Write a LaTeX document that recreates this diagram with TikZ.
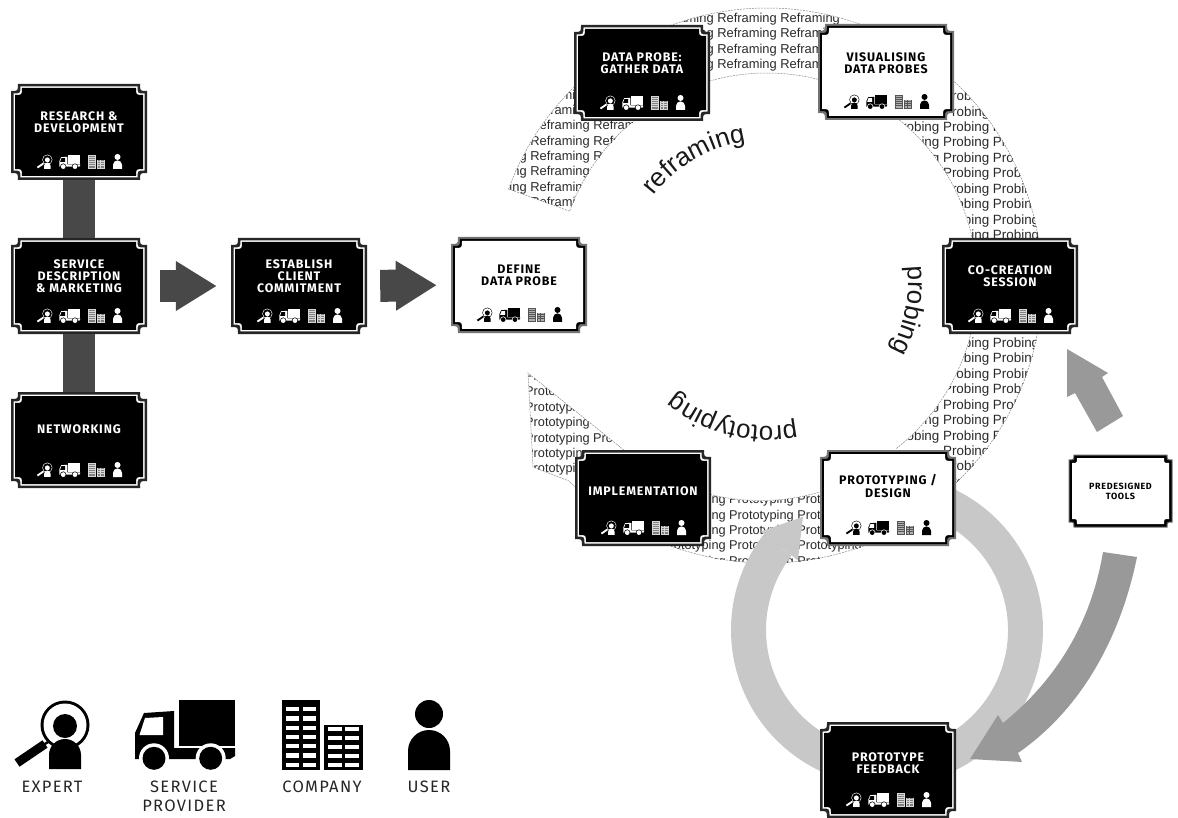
\documentclass[tikz,border=0pt]{standalone}
\usepackage{fontspec}
\setmainfont{Liberation Sans}
\newfontfamily\boxfont[LetterSpace=7]{Fira Sans}
\newfontfamily\legfont[LetterSpace=8]{Fira Sans}
\usetikzlibrary{arrows.meta,decorations.text}
\definecolor{bardark}{HTML}{484848}
\definecolor{ringlight}{HTML}{C8C8C8}
\definecolor{arrowmid}{HTML}{999999}
\definecolor{bandtext}{HTML}{2A2A2A}
\definecolor{bandedge}{HTML}{8A8A8A}
\tikzset{
  x=1pt,y=1pt,
  boxtext/.style={inner sep=0,align=center,font=\boxfont\bfseries\fontsize{12.4}{12.2}\selectfont},
  holder/.style={rectangle,inner sep=0,minimum width=136pt,minimum height=96pt},
  bar/.style={bardark,line width=32pt},
  blockarrow/.style={bardark,line width=32pt,shorten <=13pt,shorten >=14pt,-{Triangle[length=41pt,width=47pt]}},
  bandrow/.style={inner sep=0,anchor=base west,text=bandtext},
  bandline/.style={draw=bandedge,line width=.5pt,dash pattern=on 2pt off 1pt},
  legend/.style={inner sep=0,align=center,text=black!85,font=\legfont\fontsize{16.5}{19}\selectfont},
  curvelabel/.style={decorate,decoration={text along path,text align=center,text color=black!90}}
}
% outline with concave corners
\newcommand{\notched}[3]{(-#1+#3,#2) -- (#1-#3,#2) .. controls (#1-#3,#2-#3) .. (#1,#2-#3) -- (#1,-#2+#3) .. controls (#1-#3,-#2+#3) .. (#1-#3,-#2) -- (-#1+#3,-#2) .. controls (-#1+#3,-#2+#3) .. (-#1,-#2+#3) -- (-#1,#2-#3) .. controls (-#1+#3,#2-#3) .. cycle}
% icons: origin bottom-left, legend size
\newcommand{\iconexpert}[2]{%
  \fill[#1] (50,45) circle (24.5);
  \fill[#2] (50,45) circle (21.5);
  \fill[#1] (50,44) circle (12);
  \fill[#1] (34,1) -- (34,15) arc[start angle=180,end angle=0,radius=16] -- (66,1) -- cycle;
  \fill[#1] (-.5,10.7) -- (27.5,29.7) -- (32.5,22.3) -- (4.5,3.3) -- cycle;
  \fill[#1] (29,27) -- (34,30) -- (35.5,28) -- (30.5,25) -- cycle;}
\newcommand{\icontruck}[2]{%
  \fill[#1] (44,24) rectangle (100,70);
  \fill[#1] (0,11) -- (0,37) -- (9,57) -- (39,59) -- (39,22) -- (100,22) -- (100,14) -- (95,11) -- cycle;
  \fill[#2] (10,52) -- (28,53) -- (28,35) -- (4.5,35) -- cycle;
  \fill[#2] (19,11.7) circle (15);
  \fill[#2] (75.7,11.7) circle (15);
  \fill[#1] (19,11.7) circle (11.5);
  \fill[#1] (75.7,11.7) circle (11.5);}
\newcommand{\iconcompany}[2]{%
  \fill[#1] (0,0) rectangle (38,70);
  \fill[#1] (42,0) rectangle (81,45);
  \foreach \r in {0,...,6}{
    \fill[#2] (4,{3+9.3*\r}) rectangle (17,{7.3+9.3*\r});
    \fill[#2] (21,{3+9.3*\r}) rectangle (34,{7.3+9.3*\r});}
  \foreach \r in {0,...,4}{
    \fill[#2] (46,{3+9*\r}) rectangle (60,{7.3+9*\r});
    \fill[#2] (63,{3+9*\r}) rectangle (77,{7.3+9*\r});}}
\newcommand{\iconuser}[2]{%
  \fill[#1] (21,56) circle (14);
  \fill[#1] (0,0) -- (0,19) arc[start angle=180,end angle=0,radius=21] -- (42,0) -- cycle;}
\newcommand{\iconrow}[3]{% cx cy(positive px) colour set
  \begin{scope}[shift={(#1-42,-#2-37)},scale=.207]\iconexpert{#3}{#3bg}\end{scope}
  \begin{scope}[shift={(#1-19.7,-#2-37)},scale=.207]\icontruck{#3}{#3bg}\end{scope}
  \begin{scope}[shift={(#1+9,-#2-37)},scale=.207]\iconcompany{#3co}{#3cw}\end{scope}
  \begin{scope}[shift={(#1+34,-#2-37)},scale=.215]\iconuser{#3}{#3bg}\end{scope}}
\colorlet{blackmk}{black}\colorlet{blackmkbg}{white}
\definecolor{blackmkco}{HTML}{555555}\definecolor{blackmkcw}{HTML}{B0B0B0}
\colorlet{whitemk}{white}\colorlet{whitemkbg}{black}
\definecolor{whitemkco}{HTML}{D8D8D8}\definecolor{whitemkcw}{HTML}{808080}
% [text offset] name, cx, cy, text
\newcommand{\blackbox}[5][10]{%
  \begin{scope}[shift={(#3,-#4)}]
    \fill[black!85] \notched{68}{48}{7};
    \fill[white] \notched{65.5}{45.5}{7};
    \fill[black] \notched{64}{44}{7};
  \end{scope}
  \node[holder] (#2) at (#3,-#4) {};
  \node[boxtext,text=white] (#2-t) at (#3,-#4+#1) {#5};
  \iconrow{#3}{#4}{whitemk}}
\newcommand{\whitebox}[5][10]{%
  \begin{scope}[shift={(#3,-#4)}]
    \fill[black!55] \notched{68}{48}{7};
    \fill[black] \notched{66}{46}{7};
    \fill[white] \notched{64}{44}{7};
  \end{scope}
  \node[holder] (#2) at (#3,-#4) {};
  \node[boxtext,text=black] (#2-t) at (#3,-#4+#1) {#5};
  \iconrow{#3}{#4}{blackmk}}
\begin{document}
\begin{tikzpicture}
\useasboundingbox (0,0) rectangle (1178,-818);
\fill[white] (0,0) rectangle (1178,-818);

% --- text bands of the large cycle
\begin{scope}[shift={(767,-283)}]
  \begin{scope}
    \clip (160:275pt) arc[start angle=160,end angle=62,radius=275pt] -- (62:210pt) arc[start angle=62,end angle=160,radius=210pt] -- cycle;
    \tikzset{rfrow/.style={bandrow,font=\fontsize{12.9}{13}\selectfont}}
    \foreach \i in {0,...,3}
      \node[rfrow] (rfa\i) at (654-767,{283-22.5-15.35*\i}) {Reframing Reframing Reframing};
    \foreach \i in {5,6}
      \node[rfrow] (rfb\i) at (530-767,{283-22.5-15.35*\i}) {Reframing};
    \foreach \i in {7,8,9}
      \node[rfrow] (rfc\i) at (467-767,{283-22.5-15.35*\i}) {Reframing Reframing Reframing};
    \foreach \i in {10,11,12}
      \node[rfrow] (rfd\i) at (467-767,{283-22.5-15.35*\i}) {Reframing Reframing};
  \end{scope}
  \draw[bandline] (160:275pt) arc[start angle=160,end angle=62,radius=275pt];
  \draw[bandline] (62:210pt) arc[start angle=62,end angle=160,radius=210pt];
  \draw[bandline] (160:275pt) -- (160:210pt);
  \begin{scope}
    \clip (62:275pt) arc[start angle=62,end angle=-52,radius=275pt] -- (-52:210pt) arc[start angle=-52,end angle=62,radius=210pt] -- cycle;
    \tikzset{pbrow/.style={bandrow,font=\fontsize{13.4}{14}\selectfont}}
    \foreach \i in {1,2,24,25,26}
      \node[pbrow] (pba\i) at (943-767,{283-85.2-15.43*\i}) {Probing Probing};
    \foreach \i in {3,...,10,17,18,...,23}
      \node[pbrow] (pbb\i) at (893-767,{283-85.2-15.43*\i}) {Probing Probing Probing};
  \end{scope}
  \draw[bandline] (62:275pt) arc[start angle=62,end angle=-52,radius=275pt];
  \draw[bandline] (-52:210pt) arc[start angle=-52,end angle=62,radius=210pt];
  \begin{scope}
    \clip (-52:280pt) arc[start angle=-52,end angle=-135,radius=280pt] -- (533-767,-467+283) -- (528-767,-373+283) -- (229:220pt) arc[start angle=229,end angle=308,radius=210pt] -- cycle;
    \tikzset{ptrow/.style={bandrow,font=\fontsize{12.75}{14}\selectfont}}
    \foreach \i in {0,...,4}
      \node[ptrow] (pta\i) at (525-767,{283-380.5-15.4*\i}) {Prototyping Prototyping};
    \foreach \i in {5,6}
      \node[ptrow] (ptb\i) at (525-767,{283-380.5-15.4*\i}) {Prototyping};
    \foreach \i in {8,...,12}
      \node[ptrow] (ptc\i) at (661-767,{283-380.5-15.4*\i}) {Prototyping Prototyping Prototyping};
  \end{scope}
  \draw[bandline] (-52:280pt) arc[start angle=-52,end angle=-135,radius=280pt] -- (533-767,-467+283) -- (528-767,-373+283) -- (229:220pt) arc[start angle=229,end angle=308,radius=210pt];
  % curved captions
  \path[curvelabel,decoration={text={|\fontsize{26}{26}\selectfont|reframing}}]
    (143:143pt) arc[start angle=143,end angle=98,radius=143pt];
  \path[curvelabel,decoration={text={|\fontsize{26}{26}\selectfont|probing}}]
    (8:141pt) arc[start angle=8,end angle=-30,radius=141pt];
  \path[curvelabel,decoration={text={|\fontsize{26}{26}\selectfont|prototyping}}]
    (-76:143pt) arc[start angle=-76,end angle=-132,radius=143pt];
\end{scope}

% --- light ring
\begin{scope}[shift={(887,-630)}]
  \fill[ringlight] (142:156pt) arc[start angle=142,end angle=430,radius=156pt] -- (70:121pt) arc[start angle=70,end angle=-218,radius=121pt] -- cycle;
  \fill[ringlight] (142:160pt) -- (126.6:141pt) -- (142:113pt) -- cycle;
\end{scope}

% --- mid-grey arrows
\fill[arrowmid] (1103,-552) .. controls (1090,-630) and (1050,-685) .. (1003,-723) -- (998,-715) -- (970,-759) -- (1022,-762) -- (1018,-753) .. controls (1080,-710) and (1120,-640) .. (1137,-557) -- cycle;
\fill[arrowmid] (1067,-349) -- (1108,-373) -- (1102,-377) -- (1123,-416) -- (1097,-432) -- (1075,-393) -- (1067,-397) -- cycle;

% --- boxes
\blackbox{rd}{79}{132}{RESEARCH \&\\DEVELOPMENT}
\blackbox{sd}{79}{286}{SERVICE\\DESCRIPTION\\\& MARKETING}
\blackbox[11]{nw}{79}{440}{NETWORKING}
\blackbox{ec}{299}{286}{ESTABLISH\\CLIENT\\COMMITMENT}
\whitebox[9.5]{dp}{519}{285}{DEFINE\\DATA PROBE}
\blackbox{gd}{642}{73}{DATA PROBE:\\GATHER DATA}
\whitebox[9]{vd}{886}{72}{VISUALISING\\DATA PROBES}
\blackbox{cc}{1010}{286}{CO-CREATION\\SESSION}
\whitebox[12]{pd}{888}{498}{PROTOTYPING /\\DESIGN}
\blackbox[7]{im}{643}{498}{IMPLEMENTATION}
\blackbox[7]{pf}{888}{770}{PROTOTYPE\\FEEDBACK}
% predesigned tools (smaller, no icons)
\begin{scope}[shift={(1120.5,-491)}]
  \fill[black!60] \notched{52}{36.5}{5};
  \fill[black] \notched{51}{35.5}{5};
  \fill[white] \notched{48.5}{33}{5};
\end{scope}
\node[rectangle,inner sep=0,minimum width=104pt,minimum height=73pt] (pt) at (1120.5,-491) {};
\node[boxtext,font=\boxfont\bfseries\fontsize{9}{10}\selectfont] (pt-t) at (1120.5,-491) {PREDESIGNED\\TOOLS};

% --- connectors
\draw[bar] (rd.south) -- (sd.north);
\draw[bar] (sd.south) -- (nw.north);
\draw[blockarrow] (sd.east) -- (ec.west);
\draw[blockarrow] (ec.east) -- (dp.west);

% --- legend
\begin{scope}[shift={(15,-770)}]\iconexpert{black}{white}\end{scope}
\begin{scope}[shift={(135,-770)}]\icontruck{black}{white}\end{scope}
\begin{scope}[shift={(282,-770)}]\iconcompany{black}{white}\end{scope}
\begin{scope}[shift={(408,-770)}]\iconuser{black}{white}\end{scope}
\node[legend,anchor=base] (l1) at (52,-792.5) {EXPERT};
\node[legend,anchor=base] (l2) at (184,-792.5) {SERVICE};
\node[legend,anchor=base] (l2b) at (184,-811.5) {PROVIDER};
\node[legend,anchor=base] (l3) at (322,-792.5) {COMPANY};
\node[legend,anchor=base] (l4) at (429,-792.5) {USER};
\end{tikzpicture}
\end{document}
